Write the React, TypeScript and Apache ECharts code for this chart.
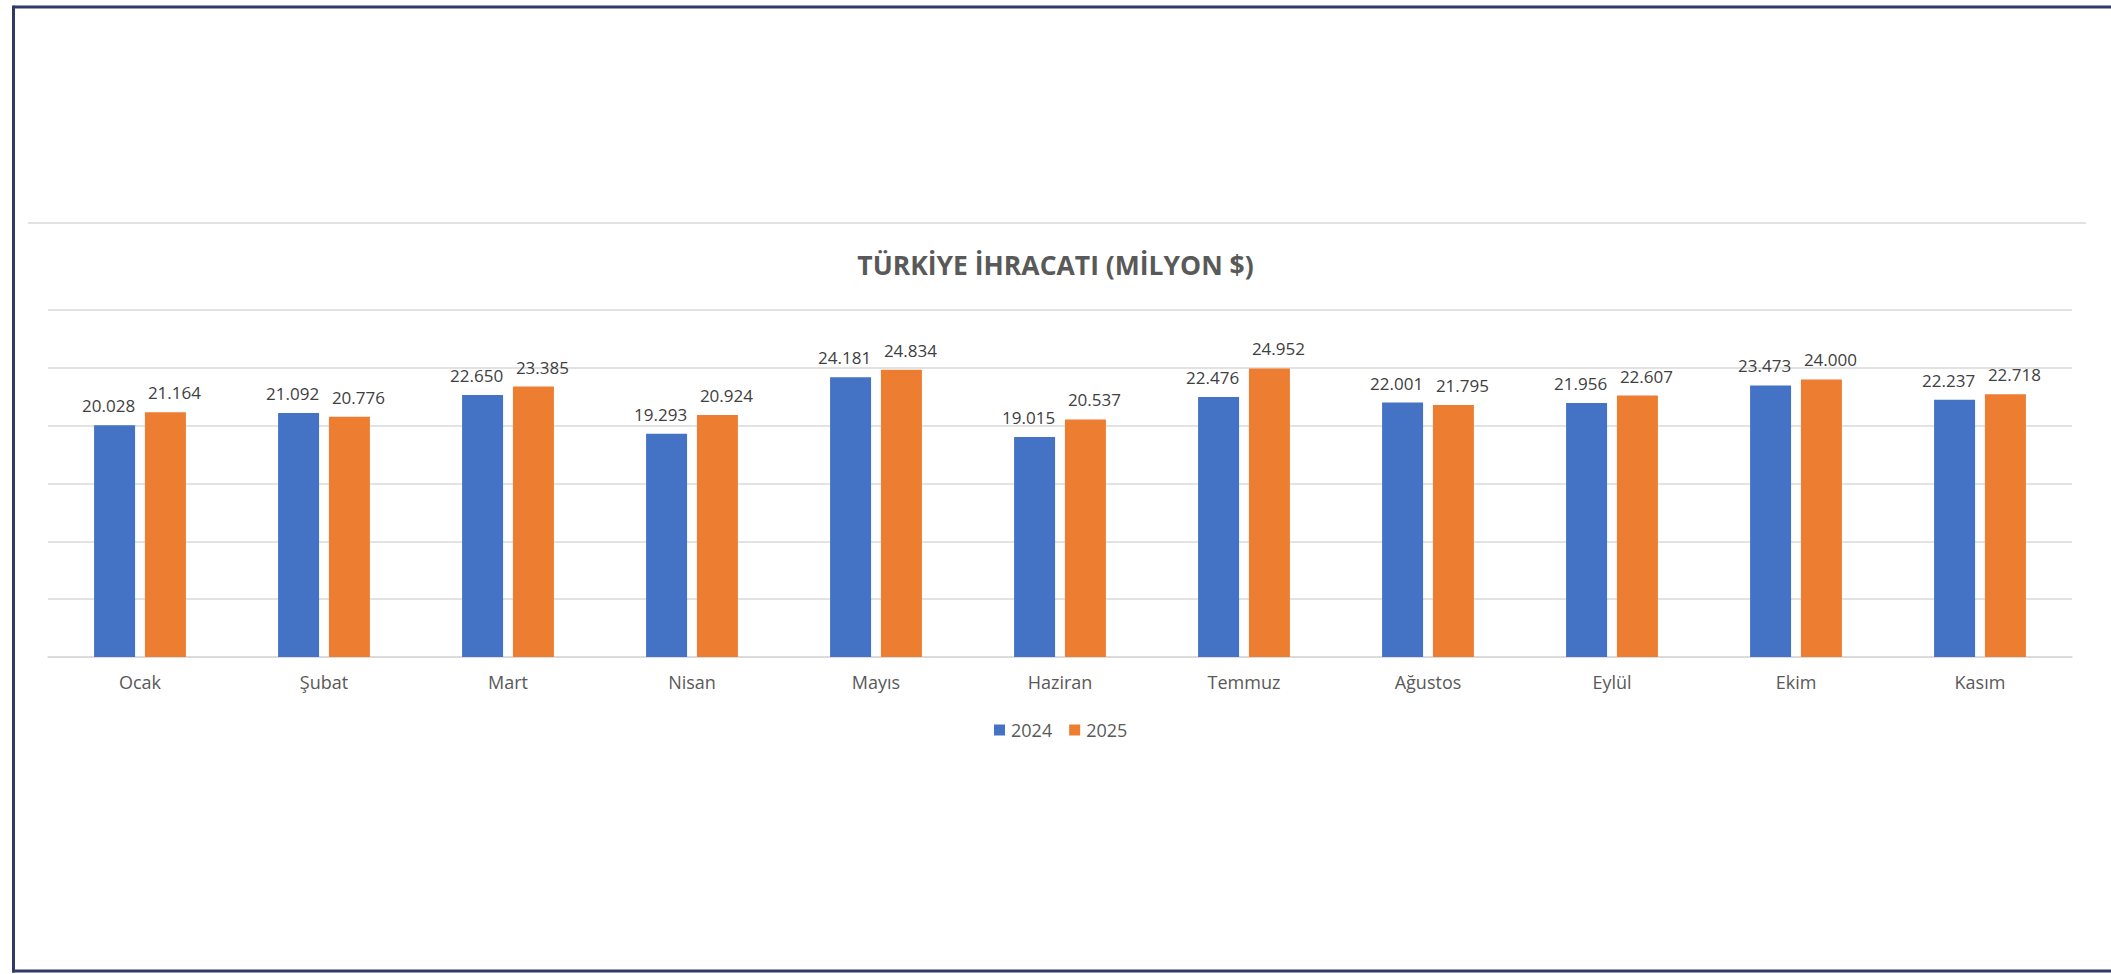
import React, { useEffect, useRef } from "react";
import * as echarts from "echarts";

const months = ["Ocak", "Şubat", "Mart", "Nisan", "Mayıs", "Haziran", "Temmuz", "Ağustos", "Eylül", "Ekim", "Kasım"];
const exports2024 = [20028, 21092, 22650, 19293, 24181, 19015, 22476, 22001, 21956, 23473, 22237];
const exports2025 = [21164, 20776, 23385, 20924, 24834, 20537, 24952, 21795, 22607, 24000, 22718];
const seriesNames = ["2024", "2025"];
const titleText = "TÜRKİYE İHRACATI (MİLYON $)";

const fmt = (v: number) => String(v).replace(/\B(?=(\d{3})+(?!\d))/g, ".");

export default function App() {
  const ref = useRef<HTMLDivElement>(null);
  useEffect(() => {
    if (!ref.current) return;
    const chart = echarts.init(ref.current, null, { renderer: "svg" });
    const label = (dx: number) => ({
      show: true,
      position: "top",
      distance: 11,
      offset: [dx, 0],
      color: "#404040",
      fontSize: 17,
      fontFamily: "Open Sans",
      formatter: (p: any) => fmt(p.value),
    });
    chart.setOption({
      animation: false,
      backgroundColor: "#ffffff",
      textStyle: { fontFamily: "Open Sans" },
      title: {
        text: titleText,
        left: "center",
        top: 246,
        textStyle: { fontSize: 26.5, fontWeight: "bold", color: "#595959", fontFamily: "Open Sans" },
      },
      legend: {
        data: seriesNames,
        left: 989,
        top: 716,
        icon: "rect",
        itemWidth: 11,
        itemHeight: 11,
        itemGap: 17,
        textStyle: { fontSize: 18, color: "#595959", fontFamily: "Open Sans", padding: [0, 0, 0, 1] },
      },
      grid: { left: 48, right: 39, top: 310, bottom: 317 },
      xAxis: {
        type: "category",
        data: months,
        axisLine: { lineStyle: { color: "#d9d9d9", width: 1.5 } },
        axisTick: { show: false },
        axisLabel: { fontSize: 18, color: "#595959", margin: 16, fontFamily: "Open Sans" },
      },
      yAxis: {
        type: "value",
        min: 0,
        max: 30000,
        interval: 5000,
        axisLabel: { show: false },
        axisLine: { show: false },
        axisTick: { show: false },
        splitLine: { lineStyle: { color: "#d9d9d9", width: 1.5 } },
      },
      series: [
        {
          name: seriesNames[0],
          type: "bar",
          data: exports2024,
          barWidth: 41,
          barGap: "24%",
          itemStyle: { color: "#4472C4" },
          label: label(-6),
        },
        {
          name: seriesNames[1],
          type: "bar",
          data: exports2025,
          barWidth: 41,
          barGap: "24%",
          itemStyle: { color: "#ED7D31" },
          label: label(9),
        },
      ],
      graphic: [
        { type: "line", shape: { x1: 28, y1: 223, x2: 2086, y2: 223 }, style: { stroke: "#e2e2e2", lineWidth: 2 } },
        { type: "line", shape: { x1: 13.5, y1: 7, x2: 2111, y2: 7 }, style: { stroke: "#2f3a66", lineWidth: 3 } },
        { type: "line", shape: { x1: 13.5, y1: 5.5, x2: 13.5, y2: 972.5 }, style: { stroke: "#2f3a66", lineWidth: 3 } },
        { type: "line", shape: { x1: 12, y1: 971, x2: 2111, y2: 971 }, style: { stroke: "#2f3a66", lineWidth: 3 } },
      ],
    });
    return () => chart.dispose();
  }, []);
  return (
    <div
      ref={ref}
      style={{ position: "fixed", left: 0, top: 0, width: 2111, height: 974 }}
    />
  );
}
